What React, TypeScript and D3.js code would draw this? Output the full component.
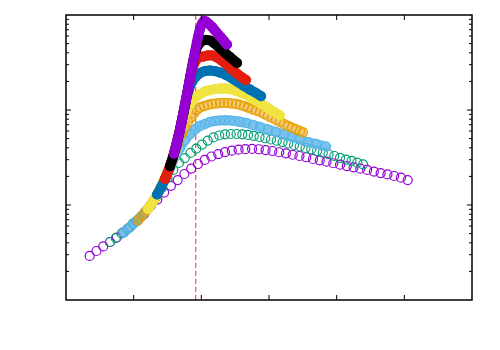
import React from 'react';
import * as d3 from 'd3';

// gnuplot default line colours, cycling
const colors = ['#9400d3', '#009e73', '#56b4e9', '#e69f00', '#f0e442', '#0072b2', '#e51e10', '#000000', '#9400d3'];

// [x, y], lowest peak first
const purpleLow: [number, number][] = [
  [0.35, 2.91], [0.45, 3.28], [0.55, 3.66], [0.65, 4.08], [0.75, 4.55], [0.85, 5.14], [0.95, 5.87], [1.05, 6.79],
  [1.15, 7.94], [1.25, 9.76], [1.35, 11.4], [1.45, 13.5], [1.55, 15.9], [1.65, 18.3], [1.75, 21.2], [1.85, 24.2],
  [1.95, 27.0], [2.05, 29.8], [2.15, 32.4], [2.25, 34.4], [2.35, 36.1], [2.45, 37.3], [2.55, 38.2], [2.65, 38.7],
  [2.75, 38.9], [2.85, 38.6], [2.95, 37.9], [3.05, 37.0], [3.15, 35.9], [3.25, 35.0], [3.35, 33.8], [3.45, 32.8],
  [3.55, 31.8], [3.65, 30.5], [3.75, 29.5], [3.85, 28.6], [3.95, 27.5], [4.05, 26.6], [4.15, 25.7], [4.25, 24.9],
  [4.35, 24.1], [4.45, 23.4], [4.55, 22.5], [4.65, 21.7], [4.75, 21.0], [4.85, 20.2], [4.95, 19.4], [5.05, 18.3],
];

const green: [number, number][] = [
  [0.65, 4.08], [0.735, 4.49], [0.82, 5.01], [0.905, 5.59], [0.99, 6.39], [1.075, 7.12], [1.16, 8.24], [1.245, 9.76],
  [1.33, 12.1], [1.415, 15.1], [1.5, 19.2], [1.585, 23.4], [1.67, 27.7], [1.755, 31.2], [1.84, 35.3], [1.925, 39.3],
  [2.01, 43.3], [2.095, 47.7], [2.18, 51.4], [2.265, 53.9], [2.35, 55.5], [2.435, 55.9], [2.52, 55.9], [2.605, 55.5],
  [2.69, 54.6], [2.775, 53.5], [2.86, 52.0], [2.945, 50.4], [3.03, 48.9], [3.115, 47.5], [3.2, 46.0], [3.285, 44.4],
  [3.37, 42.8], [3.455, 41.3], [3.54, 39.8], [3.625, 38.6], [3.71, 37.0], [3.795, 35.5], [3.88, 34.2], [3.965, 32.8],
  [4.05, 31.4], [4.135, 30.1], [4.22, 29.1], [4.305, 27.9], [4.39, 26.8],
];

const lightBlue: [number, number][] = [
  [0.857, 5.14], [0.946, 5.87], [1.034, 6.7], [1.123, 7.75], [1.212, 9.19], [1.3, 11.3], [1.389, 14.7], [1.463, 18.8],
  [1.537, 24.5], [1.611, 32.0], [1.685, 39.8], [1.759, 48.3], [1.832, 55.9], [1.906, 62.3], [1.98, 67.9], [2.054, 71.2],
  [2.128, 74.8], [2.202, 76.6], [2.276, 77.5], [2.35, 77.9], [2.424, 77.5], [2.497, 76.6], [2.571, 75.1], [2.66, 73.0],
  [2.763, 69.5], [2.867, 66.2], [2.985, 62.3], [3.103, 58.7], [3.221, 55.2], [3.339, 52.0], [3.458, 48.9], [3.576, 46.0],
  [3.694, 43.9], [3.842, 41.3],
];

const orange: [number, number][] = [
  [1.064, 6.87], [1.123, 7.66], [1.182, 8.65], [1.241, 9.76], [1.3, 11.3], [1.36, 13.4], [1.419, 16.2], [1.478, 19.7],
  [1.537, 25.7], [1.581, 31.2], [1.626, 38.9], [1.67, 47.2], [1.714, 55.9], [1.759, 65.4], [1.803, 74.8], [1.847, 83.4],
  [1.892, 91.9], [1.936, 100], [1.98, 106], [2.039, 110], [2.098, 113], [2.158, 116], [2.217, 117], [2.276, 118.5],
  [2.335, 118.5], [2.394, 118.5], [2.453, 117], [2.512, 116], [2.571, 113], [2.63, 110], [2.69, 106], [2.749, 102],
  [2.808, 98.8], [2.867, 95.3], [2.926, 90.8], [2.985, 86.5], [3.044, 82.4], [3.103, 78.5], [3.162, 74.8], [3.221, 71.2],
  [3.281, 68.2], [3.34, 65.3], [3.399, 62.5], [3.458, 60.1], [3.502, 58.2],
];

const yellow: [number, number][] = [
  [1.212, 9.08], [1.286, 11.0], [1.36, 13.5], [1.433, 17.5], [1.507, 22.8], [1.566, 29.1], [1.626, 37.9], [1.685, 61.6],
  [1.729, 78.5], [1.773, 95.3], [1.818, 110], [1.862, 123], [1.921, 137], [1.98, 147], [2.054, 157], [2.128, 162],
  [2.202, 166], [2.276, 168], [2.35, 168], [2.424, 166], [2.497, 160], [2.571, 153], [2.645, 146], [2.719, 137],
  [2.793, 127], [2.867, 118.5], [2.941, 110], [3.015, 101], [3.089, 94.1], [3.162, 87.5],
];

const blue: [number, number][] = [
  [1.345, 12.9], [1.404, 15.3], [1.463, 18.8], [1.522, 23.6], [1.581, 32.0], [1.64, 42.8], [1.685, 61.6], [1.729, 88.6],
  [1.773, 127], [1.818, 166], [1.862, 197], [1.921, 225], [1.98, 245], [2.054, 257], [2.128, 260], [2.202, 257],
  [2.276, 248], [2.364, 234], [2.453, 215], [2.542, 197], [2.63, 179], [2.719, 164], [2.808, 151], [2.882, 140],
];

const red: [number, number][] = [
  [1.463, 18.8], [1.522, 23.9], [1.581, 32.0], [1.64, 46.0], [1.699, 69.5], [1.759, 113], [1.803, 166], [1.847, 239],
  [1.892, 305], [1.936, 344], [1.98, 361], [2.039, 366], [2.098, 375], [2.158, 375], [2.231, 357], [2.305, 328],
  [2.379, 298], [2.453, 267], [2.527, 242], [2.601, 220], [2.66, 207],
];

const black: [number, number][] = [
  [1.537, 25.7], [1.596, 34.8], [1.655, 50.7], [1.714, 78.5], [1.773, 127], [1.832, 217], [1.877, 320], [1.921, 428],
  [1.965, 495], [2.01, 533], [2.069, 546], [2.128, 539], [2.187, 507], [2.246, 466], [2.305, 428], [2.364, 393],
  [2.424, 361], [2.483, 332], [2.527, 313],
];

const purpleHigh: [number, number][] = [
  [1.596, 34.8], [1.64, 46.0], [1.685, 61.6], [1.729, 88.6], [1.773, 129], [1.818, 188], [1.862, 280], [1.906, 408],
  [1.951, 587], [1.98, 712], [2.01, 814], [2.039, 865], [2.069, 854], [2.113, 804], [2.158, 748], [2.202, 687],
  [2.246, 631], [2.291, 580], [2.335, 533], [2.379, 489],
];

const allSeries = [purpleLow, green, lightBlue, orange, yellow, blue, red, black, purpleHigh];
// how solid the merged rings look in the original (0 = separate rings)
const bandOpacity = [0, 0, 0.8, 0.55, 1, 1, 1, 1, 1];

const xTicks = [0, 1, 2, 3, 4, 5, 6];
const yDecades = [1, 10, 100, 1000];
const markerX = 1.917;

const W = 500;
const H = 350;
const margin = { top: 15, right: 28, bottom: 50, left: 66 };

export default function App() {
  const x = d3.scaleLinear().domain([0, 6]).range([margin.left, W - margin.right]);
  const y = d3.scaleLog().domain([1, 1000]).range([H - margin.bottom, margin.top]);
  const line = d3.line<[number, number]>()
    .x(d => x(d[0]))
    .y(d => y(d[1]))
    .curve(d3.curveMonotoneX);

  const [x0, x1] = x.range();
  const [yb, yt] = y.range();

  const minorY: number[] = [];
  yDecades.slice(0, -1).forEach(d => {
    for (let k = 2; k < 10; k++) minorY.push(d * k);
  });

  return (
    <svg width={W} height={H} style={{ position: 'absolute', left: 0, top: 0, background: '#fff' }}>
      <line x1={x(markerX)} x2={x(markerX)} y1={yt} y2={yb}
        stroke="#e51e10" strokeOpacity={0.75} strokeWidth={1.2} strokeDasharray="5,3" />

      {allSeries.map((pts, i) => (
        <g key={i} stroke={colors[i]} fill="none">
          {bandOpacity[i] > 0 && (
            <path d={line(pts) || ''} strokeWidth={10} strokeOpacity={bandOpacity[i]}
              strokeLinecap="round" strokeLinejoin="round" />
          )}
          {pts.map((p, j) => (
            <circle key={j} cx={x(p[0])} cy={y(p[1])} r={4.5} strokeWidth={1.2} />
          ))}
        </g>
      ))}

      <g stroke="#000" strokeWidth={1}>
        {xTicks.slice(1, -1).map(t => (
          <g key={t}>
            <line x1={x(t)} x2={x(t)} y1={yb} y2={yb - 5} />
            <line x1={x(t)} x2={x(t)} y1={yt} y2={yt + 5} />
          </g>
        ))}
        {yDecades.slice(1, -1).map(t => (
          <g key={t}>
            <line x1={x0} x2={x0 + 5} y1={y(t)} y2={y(t)} />
            <line x1={x1} x2={x1 - 5} y1={y(t)} y2={y(t)} />
          </g>
        ))}
        {minorY.map(t => (
          <g key={t}>
            <line x1={x0} x2={x0 + 3} y1={y(t)} y2={y(t)} />
            <line x1={x1} x2={x1 - 3} y1={y(t)} y2={y(t)} />
          </g>
        ))}
      </g>
      <rect x={x0} y={yt} width={x1 - x0} height={yb - yt} fill="none" stroke="#000" strokeWidth={1.5} />
    </svg>
  );
}
